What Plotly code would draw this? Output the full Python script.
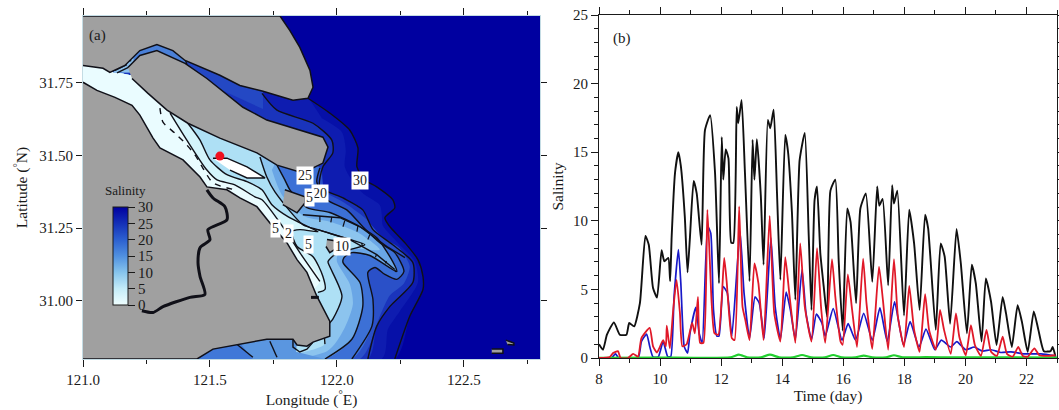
import plotly.graph_objects as go

# ---------- Panel (b) time series (day, salinity) ----------
black_t = [8,8.13,8.26,8.49,8.68,8.9,8.99,9.15,9.34,9.52,9.63,9.77,9.9,10.05,10.14,10.27,10.33,10.38,10.49,10.6,10.68,10.81,10.9,10.98,11.1,11.2,11.36,11.47,11.64,11.8,11.93,12.02,12.07,12.15,12.24,12.33,12.4,12.51,12.56,12.67,12.78,12.93,13.03,13.09,13.17,13.3,13.39,13.53,13.61,13.72,13.83,13.94,14.1,14.19,14.32,14.43,14.57,14.74,14.87,14.96,15.06,15.14,15.25,15.36,15.47,15.58,15.74,15.85,15.98,16.13,16.24,16.42,16.56,16.74,16.95,17.11,17.18,17.29,17.47,17.6,17.66,17.77,17.99,18.16,18.32,18.5,18.68,18.78,19.03,19.19,19.32,19.5,19.71,19.85,20.05,20.21,20.34,20.53,20.67,20.84,21.02,21.22,21.33,21.52,21.71,21.85,22.04,22.24,22.39,22.57,22.79,22.86,22.95]
black_s = [1.0,0.6,1.7,2.6,1.7,1.7,2.55,2.3,4.0,8.9,8.25,5.1,4.4,7.85,7.05,7.3,5.6,8.85,13.5,15.0,14.0,10.3,6.25,8.85,12.9,12.0,8.25,16.6,17.7,13.5,5.45,16.1,13.0,15.2,14.55,8.4,8.4,18.3,17.1,18.8,13.5,5.6,15.9,13.0,15.95,11.8,6.8,17.35,16.75,18.1,12.0,5.7,16.25,15.05,10.55,4.25,14.4,16.4,8.85,3.5,11.5,12.5,7.6,5.2,3.0,12.2,13.0,7.1,2.0,10.9,9.9,4.0,10.9,12.0,5.55,12.5,11.1,11.6,5.3,12.6,11.25,12.2,3.1,10.8,8.35,3.5,10.45,9.45,2.05,8.35,7.4,2.5,9.4,6.9,1.8,6.8,5.45,1.2,5.8,4.1,0.95,4.45,3.25,0.8,3.85,2.65,0.45,3.4,2.05,0.5,0.5,0.8,0.1]

blue_t = [8,8.4,8.54,8.65,9.28,9.39,9.56,9.66,9.77,9.94,10.1,10.25,10.35,10.46,10.6,10.68,10.79,10.9,10.98,11.17,11.28,11.38,11.56,11.66,11.75,11.86,11.93,12.07,12.2,12.35,12.62,12.75,12.93,13.11,13.25,13.41,13.63,13.77,13.94,14.13,14.27,14.43,14.65,14.78,14.96,15.12,15.3,15.41,15.67,15.96,16.16,16.4,16.67,16.95,17.2,17.44,17.68,17.97,18.19,18.48,18.71,19.0,19.21,19.52,19.72,20.01,20.29,20.56,20.84,21.16,21.49,21.93,22.48,22.95]
blue_s = [0,0,0.3,0,0,1.2,1.75,0.85,0.07,0.07,1.2,0.1,0.1,4.5,7.9,5.45,0.85,0.35,1.8,3.7,1.8,1.1,9.6,9.1,3.5,1.6,1.6,5.2,4.75,1.6,9.2,4.75,1.45,4.45,4.0,1.45,8.75,3.75,1.35,4.8,3.5,1.35,6.45,3.25,1.35,3.2,2.55,1.6,3.6,1.3,2.5,1.3,3.25,1.3,3.65,1.2,4.1,0.95,2.65,0.8,2.1,0.6,1.3,0.8,1.2,0.6,0.8,0.5,0.6,0.4,0.45,0.3,0.3,0.15]

red_t = [8,8.35,8.46,8.62,8.71,8.95,9.12,9.28,9.39,9.66,9.77,9.9,10.1,10.19,10.22,10.32,10.43,10.54,10.65,10.73,10.87,11.05,11.14,11.24,11.31,11.42,11.55,11.69,11.78,11.91,12.1,12.18,12.35,12.44,12.59,12.7,12.79,12.93,13.09,13.22,13.39,13.59,13.74,13.94,14.1,14.23,14.43,14.59,14.74,14.96,15.14,15.28,15.41,15.63,15.74,15.91,15.98,16.15,16.29,16.45,16.65,16.76,16.95,17.17,17.3,17.47,17.66,17.79,17.99,18.16,18.32,18.5,18.68,18.81,19.03,19.17,19.3,19.52,19.69,19.8,20.01,20.18,20.31,20.51,20.69,20.84,21.03,21.22,21.36,21.55,21.73,21.88,22.04,22.26,22.42,22.7,22.95]
red_s = [0,0.07,0.36,0.5,0,0,0.3,0.1,1.45,2.2,0.85,0.4,1.3,0.85,2.35,0.7,3.5,5.7,3.3,0.85,1.0,2.55,1.8,4.45,1.1,1.1,10.8,4.0,1.8,1.7,7.3,5.6,1.45,1.3,11.05,3.75,2.8,1.3,6.9,5.45,1.3,10.35,3.25,1.2,7.35,4.75,1.1,8.35,3.75,1.2,8.0,3.5,1.1,7.2,4.45,1.2,0.95,6.1,3.5,0.8,7.25,4.0,0.65,6.65,4.2,0.6,7.2,3.0,0.8,5.25,2.05,0.45,4.65,2.05,0.6,3.5,2.05,0.3,3.25,1.55,0.2,2.4,0.95,0.15,2.05,0.45,0.15,1.55,0.3,0.1,0.8,0.15,0.1,0.7,0.2,0.15,0.2]

green_t = [8,10,12.3,12.58,12.85,13.3,13.6,13.9,14.35,14.65,14.95,15.4,15.67,15.95,16.4,16.67,16.95,17.4,17.66,17.95,18.7,19.7,20.7,21.7,23]
green_s = [0.02,0.03,0.04,0.25,0.05,0.05,0.24,0.05,0.05,0.22,0.05,0.05,0.22,0.05,0.05,0.18,0.05,0.05,0.2,0.05,0.06,0.05,0.05,0.04,0.03]

# ---------- Panel (a) map outlines (longitude, latitude) ----------
sea_lon = [121,122.8,122.8,121]
sea_lat = [30.8,30.8,31.98,31.98]
north_lon = [121,121.776,121.815,121.854,121.894,121.906,121.886,121.827,121.709,121.618,121.539,121.402,121.354,121.291,121.224,121.165,121.106,121.079,121]
north_lat = [31.98,31.98,31.93,31.872,31.793,31.735,31.697,31.69,31.721,31.741,31.776,31.827,31.861,31.882,31.861,31.81,31.786,31.8,31.81]
chong_lon = [121.177,121.224,121.291,121.402,121.488,121.63,121.724,121.827,121.945,121.965,121.945,121.866,121.764,121.685,121.539,121.413,121.331,121.256,121.193]
chong_lat = [31.803,31.844,31.861,31.817,31.765,31.666,31.622,31.594,31.563,31.529,31.474,31.44,31.467,31.509,31.56,31.611,31.656,31.714,31.765]
south_lon = [121,121.055,121.126,121.193,121.224,121.276,121.303,121.394,121.461,121.488,121.567,121.618,121.685,121.748,121.803,121.843,121.882,121.906,121.921,121.972,121.972,121.906,121.882,121.843,121.827,121.724,121.618,121.512,121.449,121]
south_lat = [31.752,31.724,31.7,31.673,31.639,31.56,31.526,31.485,31.426,31.392,31.382,31.354,31.324,31.255,31.2,31.142,31.098,31.05,31.016,30.93,30.878,30.858,30.844,30.848,30.868,30.868,30.851,30.834,30.8,30.8]
hengsha_lon = [121.795,121.874,121.874,121.843,121.787]
hengsha_lat = [31.382,31.358,31.337,31.303,31.331]
islet_lon = [121.961,121.992,121.992,121.972,121.957]
islet_lat = [31.211,31.207,31.177,31.166,31.187]
white_lon = [121.512,121.567,121.646,121.717,121.646,121.579]
white_lat = [31.491,31.491,31.461,31.423,31.423,31.45]
rock1_lon = [122.61,122.654,122.654,122.61]
rock1_lat = [30.834,30.834,30.82,30.82]
rock2_lon = [122.665,122.697,122.697,122.672]
rock2_lat = [30.865,30.855,30.848,30.85]

# ---------- Salinity contours (longitude, latitude) ----------
c30_lon = [121.886,121.972,122.051,122.083,122.079,122.11,122.157,122.22,122.228,122.189,122.209,122.268,122.319,122.339,122.339,122.287,122.228]
c30_lat = [31.697,31.646,31.587,31.526,31.461,31.416,31.392,31.348,31.32,31.286,31.255,31.2,31.142,31.084,31.039,30.947,30.8]
c25_lon = [121.705,121.764,121.906,121.98,121.984,121.945,121.933,122.024,122.102,122.142,122.22,122.299,122.299,122.209,122.157,122.122]
c25_lat = [31.714,31.656,31.611,31.553,31.509,31.461,31.392,31.354,31.313,31.245,31.193,31.132,31.063,30.981,30.913,30.8]
c20_lon = [121.933,121.921,121.961,122.039,122.102,122.169,122.228,122.264,122.236,122.189,122.15,122.122,122.142,122.138,122.059]
c20_lat = [31.457,31.409,31.348,31.313,31.255,31.2,31.166,31.101,31.074,31.091,31.115,31.098,31.005,30.913,30.8]
c15_lon = [121.764,121.795,121.815,121.882,121.972,122.091,122.157,122.22,122.236,122.13,122.059,122.028,122.024,122.091,122.102,122.059,121.953]
c15_lat = [31.467,31.416,31.382,31.321,31.304,31.255,31.217,31.135,31.101,31.156,31.166,31.149,31.132,31.063,30.981,30.868,30.8]
c10_lon = [121.697,121.724,121.756,121.866,121.925,122.051,122.11,122.051,121.992,121.965,121.972,122.02,121.984,121.953,121.953]
c10_lat = [31.495,31.426,31.375,31.262,31.245,31.211,31.193,31.176,31.159,31.135,31.118,31.016,30.937,30.903,30.851]
c5_lon = [121.413,121.461,121.5,121.567,121.646,121.705,121.744,121.807,121.894,121.925,121.854,121.823,121.843,121.906,121.945,121.953,121.925]
c5_lat = [31.611,31.553,31.485,31.434,31.41,31.382,31.331,31.29,31.252,31.238,31.245,31.238,31.187,31.152,31.084,31.039,31.029]
c2_lon = [121.343,121.409,121.488,121.528,121.598,121.677,121.705,121.787,121.854,121.933]
c2_lat = [31.646,31.553,31.45,31.416,31.399,31.358,31.348,31.255,31.166,31.067]
# unlined shading levels between the drawn contours
s27_lon = [121.941,122.02,122.035,122.031,122.071,122.11,122.169,122.177,122.181,122.24,122.307,122.319,122.248,122.201,122.177]
s27_lat = [31.628,31.58,31.519,31.461,31.399,31.365,31.33,31.296,31.259,31.2,31.135,31.063,30.964,30.902,30.8]
s22_lon = [121.941,121.953,122.031,122.11,122.177,122.248,122.287,122.264,122.209,122.169,122.091]
s22_lat = [31.453,31.378,31.337,31.286,31.221,31.18,31.118,31.06,31.019,30.947,30.8]
s12_lon = [121.744,121.783,121.874,121.972,122.083,122.169,122.059,122.004,122.0,122.051,122.063,122.028,121.961]
s12_lat = [31.45,31.365,31.29,31.272,31.235,31.176,31.18,31.159,31.135,31.057,30.988,30.902,30.827]
nbmid_lon = [121.409,121.709,121.709,121.409]
nbmid_lat = [31.88,31.75,31.66,31.78]
close_lon = [121.3,121.0,121.0,121.106,121.193,121.46,121.8]
close_lat = [30.8,31.7,31.815,31.79,31.775,31.7,31.55]
closen_lon = [121.3,121.0,121.0,121.7]
closen_lat = [30.8,31.0,31.95,31.95]
dash_lon = [121.303,121.315,121.362,121.402,121.441,121.472,121.512,121.598]
dash_lat = [31.663,31.615,31.577,31.543,31.502,31.457,31.406,31.382]
river_lon = [121.488,121.512,121.559,121.567,121.492,121.5,121.461,121.453,121.461,121.48,121.421,121.315,121.276,121.232]
river_lat = [31.382,31.354,31.324,31.279,31.245,31.21,31.183,31.132,31.084,31.022,31.012,30.98,30.96,30.966]
jettyn_lon = [121.866,122.012,122.091,122.197,122.268]
jettyn_lat = [31.296,31.286,31.255,31.187,31.149]
jettys_lon = [121.925,122.051,122.157,122.228]
jettys_lat = [31.245,31.211,31.159,31.108]
groin_lon = [121.933,121.933,None,121.98,121.976,None,122.031,122.024,None,122.083,122.079,None,122.13,122.122,None,122.097,122.101,None,122.156,122.152,None,122.195,122.191,None,122.234,122.23]
groin_lat = [31.292,31.271,None,31.289,31.27,None,31.276,31.255,None,31.259,31.238,None,31.228,31.211,None,31.199,31.188,None,31.16,31.15,None,31.137,31.129,None,31.108,31.099]
nbwest_lon = [121.118,121.165,121.224,121.303,121.409,121.409,121.193]
nbwest_lat = [31.786,31.827,31.879,31.896,31.844,31.793,31.786]
nbhead_lon = [121.118,121.165,121.197,121.205]
nbhead_lat = [31.786,31.827,31.844,31.786]
nbline_lon = [121.402,121.409,None,121.126,121.173,None,121.134,121.181,None,121.146,121.19]
nbline_lat = [31.834,31.813,None,31.793,31.813,None,31.784,31.804,None,31.83,31.826]
hz1_lon = [121.449,121.449,121.846,121.839,121.953]
hz1_lat = [30.8,30.868,30.885,30.825,30.8]
hz2_lon = [121.449,121.449,121.606,121.669]
hz2_lat = [30.8,30.868,30.868,30.8]
hzline_lon = [121.606,121.669,None,121.736,121.764,None,121.827,121.827,121.854,121.882,121.906]
hzline_lat = [30.851,30.806,None,30.861,30.806,None,30.868,30.841,30.824,30.834,30.858]
stick_lon = [121.898,121.929]
stick_lat = [31.012,31.012]
label_text = ["25","30","20","5","5","2","5","10"]
label_lon = [121.874,122.091,121.933,121.894,121.76,121.811,121.89,122.02]
label_lat = [31.43,31.413,31.368,31.355,31.248,31.231,31.194,31.187]
site_lon = [121.539]
site_lat = [31.498]
cbar_ticks = [0,5,10,15,20,25,30]

W, H = 1059, 410
def px(x): return x / W
def py(y): return 1 - y / H
FONT = "Liberation Serif"
INK = "#1a1a1a"
fig = go.Figure()

def poly(lon, lat, color, edge=None, width=1.5, smooth=True):
    shape = dict(shape="spline", smoothing=0.7) if smooth else dict(shape="linear")
    fig.add_trace(go.Scatter(x=lon, y=lat, mode="lines", fill="toself", fillcolor=color,
                             line=dict(color=edge or color, width=width if edge else 0, **shape),
                             hoverinfo="skip", showlegend=False, xaxis="x", yaxis="y"))

def line(lon, lat, width=1.4, dash="solid", color="#101018", smooth=True):
    shape = dict(shape="spline", smoothing=0.7) if smooth else dict(shape="linear")
    fig.add_trace(go.Scatter(x=lon, y=lat, mode="lines", line=dict(color=color, width=width, dash=dash, **shape),
                             hoverinfo="skip", showlegend=False, connectgaps=False, xaxis="x", yaxis="y"))

# nested salinity bands, painted from the sea toward the river
poly(sea_lon, sea_lat, "#0000a0", smooth=False)
poly(c30_lon + closen_lon, c30_lat + closen_lat, "#0610a8")
poly(s27_lon + closen_lon, s27_lat + closen_lat, "#0e1cb0")
poly(c25_lon + closen_lon, c25_lat + closen_lat, "#1a34bc")
poly(nbmid_lon, nbmid_lat, "#2448c4", smooth=False)
poly(s22_lon + close_lon, s22_lat + close_lat, "#2a50c8")
poly(c20_lon + close_lon, c20_lat + close_lat, "#3c70d6")
poly(c15_lon + close_lon, c15_lat + close_lat, "#6aa6e6")
poly(s12_lon + close_lon, s12_lat + close_lat, "#8cc4ee")
poly(c10_lon + close_lon, c10_lat + close_lat, "#aee0f5")
poly(c5_lon + close_lon, c5_lat + close_lat, "#d4f4fb")
poly(c2_lon + close_lon, c2_lat + close_lat, "#eafcff")
poly(nbwest_lon, nbwest_lat, "#4a80d8", smooth=False)
poly(nbhead_lon, nbhead_lat, "#8cc0ec", smooth=False)
poly(hz1_lon, hz1_lat, "#5a96e0", smooth=False)
poly(hz2_lon, hz2_lat, "#4078d8", smooth=False)

for lo, la in [(c30_lon, c30_lat), (c25_lon, c25_lat), (c20_lon, c20_lat), (c15_lon, c15_lat),
               (c10_lon, c10_lat), (c5_lon, c5_lat), (c2_lon, c2_lat)]:
    line(lo, la)
line(nbline_lon, nbline_lat, smooth=False)
line(hzline_lon, hzline_lat, smooth=False)
line(dash_lon, dash_lat, dash="6px,6px")
line(jettyn_lon, jettyn_lat, 1.4, smooth=False)
line(jettys_lon, jettys_lat, 1.4, smooth=False)
line(groin_lon, groin_lat, 1.2, smooth=False)

for lo, la, col in [(north_lon, north_lat, "#a0a0a0"), (chong_lon, chong_lat, "#a0a0a0"),
                    (south_lon, south_lat, "#a0a0a0"), (hengsha_lon, hengsha_lat, "#a0a0a0"),
                    (islet_lon, islet_lat, "#a0a0a0"), (white_lon, white_lat, "#ffffff"),
                    (rock1_lon, rock1_lat, "#a0a0a0"), (rock2_lon, rock2_lat, "#a0a0a0")]:
    poly(lo, la, col, edge="#101018", width=1.5, smooth=False)

line(river_lon, river_lat, 3)
line(stick_lon, stick_lat, 3, smooth=False)
fig.add_trace(go.Scatter(x=site_lon, y=site_lat, mode="markers", marker=dict(color="#f01020", size=9),
                         hoverinfo="skip", showlegend=False, xaxis="x", yaxis="y"))

# colour bar of panel (a)
fig.add_trace(go.Scatter(
    x=site_lon, y=site_lat, mode="markers", hoverinfo="skip", showlegend=False, xaxis="x", yaxis="y",
    marker=dict(size=1, opacity=0, color=[15], cmin=0, cmax=30, showscale=True,
                colorscale=[[0, "#f0ffff"], [1/6, "#c4ecf8"], [1/3, "#86c4ec"], [0.5, "#5090e0"],
                            [2/3, "#2c60d0"], [5/6, "#1430b8"], [1, "#0000a0"]],
                colorbar=dict(x=px(113), xanchor="left", xpad=0, y=py(305), yanchor="bottom", ypad=0,
                              thickness=15, thicknessmode="pixels", len=98, lenmode="pixels",
                              tickvals=cbar_ticks, ticks="outside", ticklen=7, tickcolor=INK,
                              outlinecolor=INK, outlinewidth=1,
                              tickfont=dict(family=FONT, size=15, color=INK)))))

# panel (b)
for t, s, col, wd in [(black_t, black_s, "#101010", 1.9), (blue_t, blue_s, "#1818c8", 1.7),
                      (green_t, green_s, "#22d030", 2.2), (red_t, red_s, "#e01828", 1.8)]:
    fig.add_trace(go.Scatter(x=t, y=s, mode="lines", cliponaxis=False,
                             line=dict(color=col, width=wd, shape="spline", smoothing=0.5),
                             hoverinfo="skip", showlegend=False, xaxis="x2", yaxis="y2"))

notes = [dict(text=tx, x=lo, y=la, xref="x", yref="y", showarrow=False, bgcolor="white", borderpad=1,
              font=dict(family=FONT, size=14, color=INK))
         for tx, lo, la in zip(label_text, label_lon, label_lat)]
notes += [
    dict(text="(a)", x=px(97), y=py(36), xref="paper", yref="paper", xanchor="center", yanchor="middle", showarrow=False, font=dict(family=FONT, size=15, color=INK)),
    dict(text="(b)", x=px(622), y=py(39), xref="paper", yref="paper", xanchor="center", yanchor="middle", showarrow=False, font=dict(family=FONT, size=15, color=INK)),
    dict(text="Salinity", x=px(125), y=py(190), xref="paper", yref="paper", xanchor="center", yanchor="middle", showarrow=False, font=dict(family=FONT, size=13, color=INK)),
]

tick = dict(family=FONT, size=15, color=INK)
title = dict(family=FONT, size=15.5, color=INK)
fig.update_layout(
    width=W, height=H, autosize=False, margin=dict(l=0, r=0, t=0, b=0, autoexpand=False),
    paper_bgcolor="white", plot_bgcolor="white", annotations=notes, showlegend=False,
    xaxis=dict(domain=[px(83), px(540)], range=[121, 122.8], anchor="y", dtick=0.5, tick0=121, tickformat=".1f",
               ticks="outside", ticklen=7, tickcolor=INK, mirror="allticks", showline=True, linecolor="#c4dce4",
               minor=dict(dtick=0.25, ticks="outside", ticklen=4, tickcolor=INK, showgrid=False),
               showgrid=False, zeroline=False, tickfont=tick, ticklabeloverflow="allow",
               title=dict(text="Longitude (<sup>°</sup>E)", font=title, standoff=2)),
    yaxis=dict(domain=[py(359), py(16)], range=[30.8, 31.98], anchor="x",
               tickvals=[31, 31.25, 31.5, 31.75], ticktext=["31.00", "31.25", "31.50", "31.75"],
               ticks="outside", ticklen=6, tickcolor=INK, mirror="allticks", showline=True, linecolor="#c4dce4",
               showgrid=False, zeroline=False, tickfont=tick, ticklabeloverflow="allow",
               title=dict(text="Latitude (<sup>°</sup>N)", font=title, standoff=7)),
    xaxis2=dict(domain=[px(599), px(1057)], range=[8, 23], anchor="y2", dtick=2, tick0=8, layer="below traces",
                ticks="outside", ticklen=7, tickcolor=INK, mirror="allticks", showline=True, linecolor=INK,
                minor=dict(dtick=1, ticks="outside", ticklen=4, tickcolor=INK, showgrid=False),
                showgrid=False, zeroline=False, tickfont=tick, ticklabeloverflow="allow",
                title=dict(text="Time (day)", font=title, standoff=2)),
    yaxis2=dict(domain=[py(358), py(15)], range=[0, 25], anchor="x2", dtick=5, layer="below traces",
                ticks="outside", ticklen=7, tickcolor=INK, mirror="allticks", showline=True, linecolor=INK,
                minor=dict(dtick=1, ticks="outside", ticklen=4, tickcolor=INK, showgrid=False),
                showgrid=False, zeroline=False, tickfont=tick, ticklabeloverflow="allow",
                title=dict(text="Salinity", font=title, standoff=5)),
)
# the default 8 px body margin would push the figure out of the 1059x410 window
fig.write_html("out.html", config={"displayModeBar": False},
               post_script="document.body.style.margin='0';document.documentElement.style.overflow='hidden';")
